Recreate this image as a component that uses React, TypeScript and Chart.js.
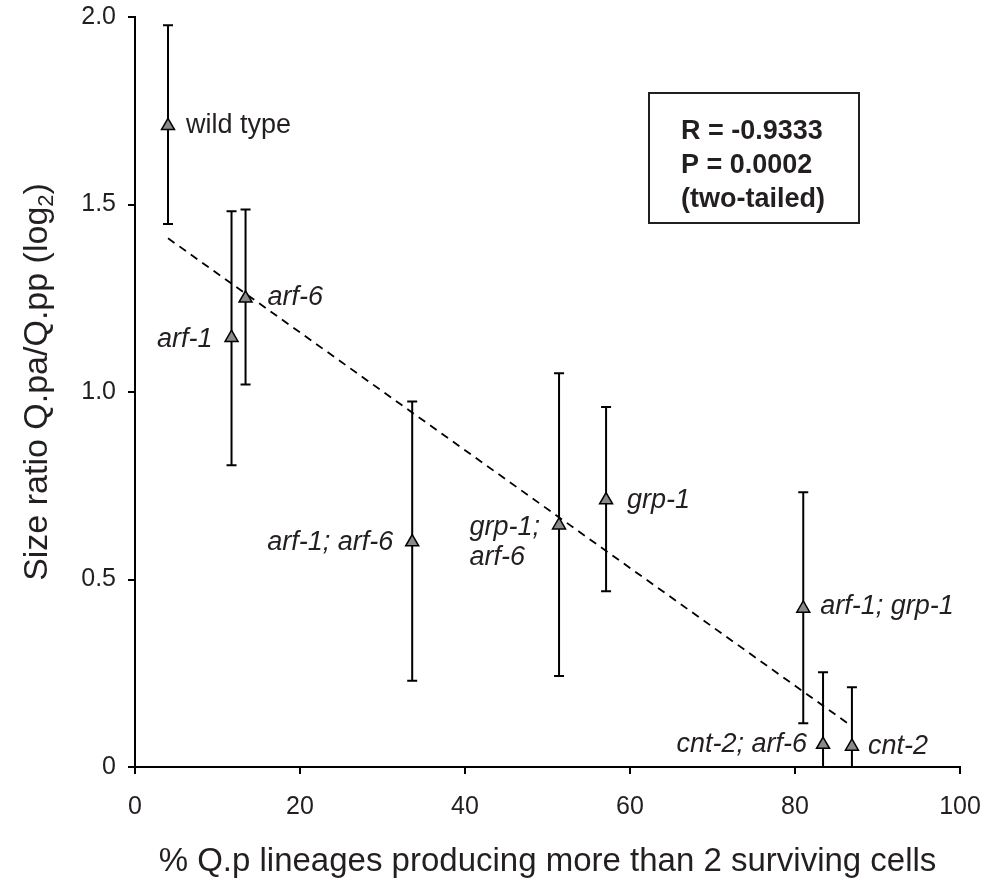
import React, { useEffect, useRef } from 'react';
import { Chart, registerables } from 'chart.js';

Chart.register(...registerables);

// ---------- data ----------
const strains = [
  'wild type',
  'arf-1',
  'arf-6',
  'arf-1; arf-6',
  'grp-1;\narf-6',
  'grp-1',
  'arf-1; grp-1',
  'cnt-2; arf-6',
  'cnt-2',
];
const pctLineages = [4.0, 11.7, 13.4, 33.6, 51.4, 57.1, 81.0, 83.4, 86.9];
const sizeRatio = [1.71, 1.145, 1.25, 0.6, 0.645, 0.712, 0.423, 0.06, 0.055];
const errLow = [1.448, 0.805, 1.02, 0.23, 0.243, 0.469, 0.117, 0, 0];
const errHigh = [1.978, 1.482, 1.487, 0.975, 1.05, 0.96, 0.733, 0.253, 0.213];
const trendX = [4.0, 86.8];
const trendY = [1.41, 0.11];
const xMin = 0, xMax = 100, xStep = 20;
const yMin = 0, yMax = 2, yStep = 0.5;
const statsLines = ['R = -0.9333', 'P = 0.0002', '(two-tailed)'];
const xTitle = '% Q.p lineages producing more than 2 surviving cells';
const yTitleParts = ['Size ratio Q.pa/Q.pp (log', '2', ')'];

// ---------- style ----------
const FONT = '"Liberation Sans", Arial, Helvetica, sans-serif';
const INK = '#231f20';

const LABEL_LAYOUT = [
  { align: 'left', dx: 18, dy: 0, italic: false },
  { align: 'right', dx: -19, dy: 2, italic: true },
  { align: 'left', dx: 22, dy: -1, italic: true },
  { align: 'right', dx: -19, dy: 0, italic: true },
  { align: 'block-right', dx: -19, dy: 2, italic: true, lineGap: 30 },
  { align: 'left', dx: 21, dy: 0, italic: true },
  { align: 'left', dx: 17, dy: -2, italic: true },
  { align: 'right', dx: -16, dy: 0, italic: true },
  { align: 'left', dx: 16, dy: 0, italic: true },
];

const errorBarPlugin = {
  id: 'errorBars',
  beforeDatasetsDraw(chart: any) {
    const { ctx, scales } = chart;
    const xs = scales.x, ys = scales.y;
    ctx.save();
    ctx.strokeStyle = '#000';
    ctx.lineWidth = 2;
    for (let i = 0; i < pctLineages.length; i++) {
      const px = xs.getPixelForValue(pctLineages[i]);
      const lo = ys.getPixelForValue(errLow[i]);
      const hi = ys.getPixelForValue(errHigh[i]);
      ctx.beginPath();
      ctx.moveTo(px, lo);
      ctx.lineTo(px, hi);
      ctx.moveTo(px - 5, hi);
      ctx.lineTo(px + 5, hi);
      ctx.moveTo(px - 5, lo);
      ctx.lineTo(px + 5, lo);
      ctx.stroke();
    }
    ctx.restore();
  },
};

const annotationPlugin = {
  id: 'annotations',
  afterDraw(chart: any) {
    const { ctx, scales, chartArea } = chart;
    const xs = scales.x, ys = scales.y;
    ctx.save();
    ctx.fillStyle = INK;
    ctx.textBaseline = 'middle';
    // point labels
    for (let i = 0; i < strains.length; i++) {
      const lay = LABEL_LAYOUT[i];
      const px = xs.getPixelForValue(pctLineages[i]);
      const py = ys.getPixelForValue(sizeRatio[i]);
      ctx.font = `${lay.italic ? 'italic ' : ''}27px ${FONT}`;
      const lines = strains[i].split('\n');
      if (lay.align === 'block-right') {
        const w = ctx.measureText(lines[0]).width;
        ctx.textAlign = 'left';
        lines.forEach((ln, k) => {
          ctx.fillText(ln, px + lay.dx - w, py + lay.dy + k * (lay.lineGap || 30));
        });
      } else {
        ctx.textAlign = lay.align;
        ctx.fillText(lines[0], px + lay.dx, py + lay.dy);
      }
    }
    // stats box
    const bx = chartArea.left + 514;
    const by = chartArea.top + 76;
    const bw = 210;
    const bh = 130;
    ctx.strokeStyle = INK;
    ctx.lineWidth = 2;
    ctx.strokeRect(bx, by, bw, bh);
    ctx.font = `bold 27px ${FONT}`;
    ctx.textAlign = 'left';
    statsLines.forEach((ln, k) => {
      ctx.fillText(ln, bx + 32, by + 39 + k * 34);
    });
    // y axis title with subscript
    const cy = (chartArea.top + chartArea.bottom) / 2 - 10;
    const cx = 36;
    ctx.translate(cx, cy);
    ctx.rotate(-Math.PI / 2);
    const mainFont = `34px ${FONT}`;
    const subFont = `22px ${FONT}`;
    ctx.font = mainFont;
    const w0 = ctx.measureText(yTitleParts[0]).width;
    const w2 = ctx.measureText(yTitleParts[2]).width;
    ctx.font = subFont;
    const w1 = ctx.measureText(yTitleParts[1]).width;
    const total = w0 + w1 + w2;
    let x = -total / 2;
    ctx.textAlign = 'left';
    ctx.textBaseline = 'alphabetic';
    ctx.font = mainFont;
    ctx.fillText(yTitleParts[0], x, 11);
    x += w0;
    ctx.font = subFont;
    ctx.fillText(yTitleParts[1], x, 17);
    x += w1;
    ctx.font = mainFont;
    ctx.fillText(yTitleParts[2], x, 11);
    ctx.restore();
  },
};

export default function App() {
  const canvasRef = useRef<HTMLCanvasElement | null>(null);

  useEffect(() => {
    const canvas = canvasRef.current;
    if (!canvas) return;
    const chart = new Chart(canvas, {
      type: 'scatter',
      data: {
        datasets: [
          {
            label: 'strains',
            data: pctLineages.map((x, i) => ({ x, y: sizeRatio[i] })),
            pointStyle: 'triangle',
            pointRadius: 7.5,
            pointHoverRadius: 7.5,
            backgroundColor: '#8a8a8a',
            borderColor: '#000',
            borderWidth: 1.5,
            clip: false as any,
          },
          {
            type: 'line' as any,
            label: 'trend',
            data: trendX.map((x, i) => ({ x, y: trendY[i] })),
            showLine: true,
            borderColor: '#000',
            borderWidth: 1.8,
            borderDash: [8, 6],
            pointRadius: 0,
            fill: false,
          } as any,
        ],
      },
      options: {
        animation: false,
        responsive: false,
        maintainAspectRatio: false,
        events: [],
        layout: { padding: { top: 17, right: 24, left: 0, bottom: 0 } },
        plugins: {
          legend: { display: false },
          tooltip: { enabled: false },
        },
        scales: {
          x: {
            type: 'linear',
            min: xMin,
            max: xMax,
            afterFit(scale: any) {
              scale.height = 123;
              scale.paddingLeft = 0;
              scale.paddingRight = 0;
            },
            ticks: {
              stepSize: xStep,
              color: INK,
              padding: 18,
              font: { family: FONT, size: 25 },
              maxRotation: 0,
            },
            grid: {
              display: true,
              drawOnChartArea: false,
              drawTicks: true,
              tickLength: 7,
              color: '#000',
              lineWidth: 2,
            },
            border: { display: true, color: '#000', width: 2 },
            title: {
              display: true,
              text: xTitle,
              color: INK,
              font: { family: FONT, size: 33 },
              padding: { top: 0, bottom: 8 },
            },
          },
          y: {
            type: 'linear',
            min: yMin,
            max: yMax,
            afterFit(scale: any) {
              scale.width = 135;
              scale.paddingTop = 0;
              scale.paddingBottom = 0;
            },
            ticks: {
              stepSize: yStep,
              color: INK,
              padding: 12,
              font: { family: FONT, size: 25 },
              callback: (v: any) => (Number(v) === 0 ? '0' : Number(v).toFixed(1)),
            },
            grid: {
              display: true,
              drawOnChartArea: false,
              drawTicks: true,
              tickLength: 7,
              color: '#000',
              lineWidth: 2,
            },
            border: { display: true, color: '#000', width: 2 },
          },
        },
      },
      plugins: [errorBarPlugin, annotationPlugin],
    });
    return () => chart.destroy();
  }, []);

  return (
    <div style={{ position: 'absolute', left: 0, top: 0, width: 984, height: 890, background: '#fff' }}>
      <canvas ref={canvasRef} width={984} height={890} style={{ width: 984, height: 890, display: 'block' }} />
    </div>
  );
}
